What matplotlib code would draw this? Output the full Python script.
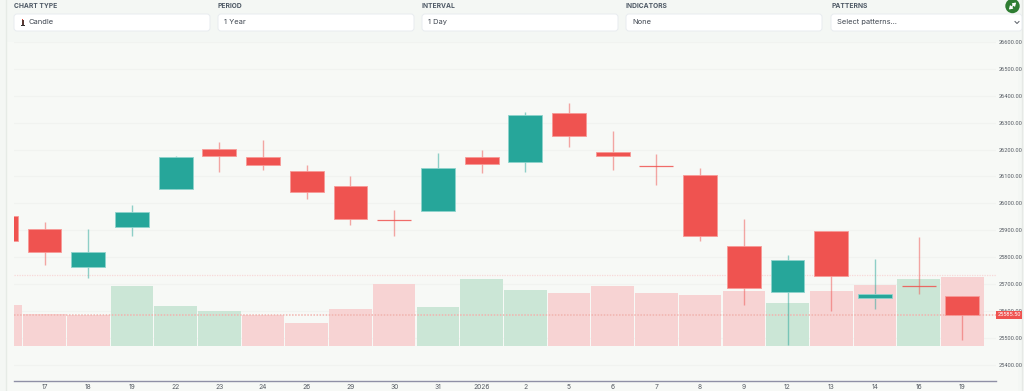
#!/usr/bin/env python3
"""
Candlestick chart with volume, inside a dashboard panel.
"""

import numpy as np
import matplotlib
matplotlib.use('Agg')
import matplotlib.pyplot as plt
from matplotlib.patches import FancyBboxPatch, Rectangle, Circle

plt.rcParams['font.family'] = ['Inter', 'DejaVu Sans']

# Data
dates = ['', '17', '18', '19', '22', '23', '24', '26', '29', '30', '31', '2026',
         '2', '5', '6', '7', '8', '9', '12', '13', '14', '16', '19']
opens = [25952, 25903, 25762, 25911, 26052, 26204, 26171, 26119, 26063, 25941, 25970, 26171,
         26153, 26335, 26190, 26141, 26104, 25840, 25669, 25896, 25647, 25695, 25654]
closes = [25859, 25818, 25818, 25967, 26171, 26175, 26141, 26041, 25941, 25940, 26130, 26145,
          26327, 26249, 26175, 26140, 25877, 25684, 25788, 25729, 25665, 25694, 25584]
highs = [25952, 25929, 25903, 25993, 26178, 26230, 26234, 26141, 26100, 25974, 26186, 26197,
         26338, 26372, 26271, 26182, 26130, 25941, 25810, 25896, 25792, 25874, 25654]
lows = [25859, 25770, 25721, 25877, 26052, 26115, 26123, 26015, 25918, 25877, 25970, 26112,
        26115, 26208, 26123, 26067, 25859, 25621, 25472, 25600, 25606, 25662, 25494]
volumes = [41, 32, 31, 60, 40, 35, 31, 23, 37, 62, 39, 67, 56, 53, 60, 53, 51, 55, 43, 55, 61, 67, 69]
volume_up = [False, False, False, True, True, True, False, False, False, False, True, True,
             True, False, False, False, False, False, True, False, False, True, False]
price_ticks = [25400, 25500, 25600, 25700, 25800, 25900, 26000, 26100, 26200, 26300, 26400,
               26500, 26600]
last_price = 25585.5
prev_level = 25732
controls = [('CHART TYPE', 'Candle', 14, 210),
            ('PERIOD', '1 Year', 218, 414),
            ('INTERVAL', '1 Day', 422, 618),
            ('INDICATORS', 'None', 626, 822),
            ('PATTERNS', 'Select patterns...', 831, 1022)]

UP = '#26a69a'
DOWN = '#ef5350'
UP_EDGE = '#8fd3cc'
DOWN_EDGE = '#f79a97'
W, H = 1024, 391

fig = plt.figure(figsize=(W / 100, H / 100), dpi=100, facecolor='#f4f7f4')

# Page layer in pixel coordinates
page = fig.add_axes([0, 0, 1, 1], zorder=0)
page.set_xlim(0, W)
page.set_ylim(H, 0)
page.axis('off')
page.add_patch(Rectangle((6, 42), 1012, 349, color='#f7f9f6', lw=0))
page.plot([5.5, 5.5], [0, 391], color='#e6ebe6', lw=1)
page.plot([1021.5, 1021.5], [0, 391], color='#e6e9e6', lw=1)

# Chart axes
left, right = 13.5, 996
top, bottom = 42, 381
ax = fig.add_axes([left / W, 1 - bottom / H, (right - left) / W, (bottom - top) / H], zorder=2)
ax.patch.set_alpha(0)
ax.set_xlim(-0.71, 21.77)
ax.set_ylim(26600 - (bottom - 42) / 0.269, 26600)

x = np.arange(len(dates)) - 1
opens = np.array(opens)
closes = np.array(closes)

for p in price_ticks:
    ax.axhline(p, color='#f1f3f0', lw=0.8, zorder=1)

# Volume on its own scale, pinned to the lower part of the chart
vol_ax = ax.twinx()
vol_ax.patch.set_alpha(0)
vol_ax.set_ylim(-(bottom - 345.5), bottom - top - (bottom - 345.5))
vol_ax.axis('off')
vol_colors = ['#cbe6d6' if v else '#f7d3d3' for v in volume_up]
vol_ax.bar(x, volumes, width=0.975, color=vol_colors, zorder=1)

# Candles on top of the volume
price_ax = ax.twinx()
price_ax.set_ylim(ax.get_ylim())
price_ax.axis('off')
price_ax.axhline(last_price, color='#f1b3ae', lw=1.1, ls=(0, (1, 1)), zorder=2)
price_ax.axhline(prev_level, color='#f8d9d7', lw=0.9, ls=(0, (1, 1)), zorder=2)
for i in range(len(dates)):
    up = closes[i] >= opens[i]
    col = UP if up else DOWN
    edge = UP_EDGE if up else DOWN_EDGE
    price_ax.vlines(x[i], lows[i], highs[i], color=col, lw=1, alpha=0.5, zorder=3)
    low_body = min(opens[i], closes[i])
    height = abs(closes[i] - opens[i])
    if height < 5:
        price_ax.hlines(low_body, x[i] - 0.39, x[i] + 0.39, color=col, lw=0.9, alpha=0.85, zorder=4)
    else:
        price_ax.bar(x[i], height, bottom=low_body, width=0.775, color=col,
                     edgecolor=edge, linewidth=0.6, zorder=4)

# Axis
ax.set_xticks(x[1:])
ax.set_xticklabels(dates[1:], fontsize=4.8, color='#555b63')
ax.tick_params(axis='x', length=0, pad=2)
ax.yaxis.tick_right()
ax.set_yticks(price_ticks)
ax.set_yticklabels([f'{p:.2f}' for p in price_ticks], fontsize=4.1, color='#555b63',
                   family=['Roboto', 'DejaVu Sans'])
ax.tick_params(axis='y', length=0, pad=2)
for s in ['top', 'left', 'right']:
    ax.spines[s].set_visible(False)
ax.spines['bottom'].set_color('#8f90a6')
ax.spines['bottom'].set_linewidth(1)

# Controls and overlay on top
ui = fig.add_axes([0, 0, 1, 1], zorder=5)
ui.set_xlim(0, W)
ui.set_ylim(H, 0)
ui.axis('off')

for label, value, x0, x1 in controls:
    ui.text(x0, 6, label, fontsize=4.8, fontweight='bold', color='#4f5a66', va='center', ha='left')
    ui.add_patch(FancyBboxPatch((x0, 14), x1 - x0, 17, boxstyle='round,pad=0,rounding_size=3',
                                fc='white', ec='#e8ecef', lw=0.7))
    tx = x0 + 14.5 if label == 'CHART TYPE' else x0 + 6
    ui.text(tx, 22.3, value, fontsize=5.4, color='#3f4650', va='center', ha='left')

# Candle icon
ui.add_patch(Rectangle((21.5, 20), 2, 5, color='#5a3a34', lw=0))
ui.add_patch(Rectangle((20.5, 25), 4, 1, color='#333333', lw=0))
ui.add_patch(Rectangle((22, 18.8), 1, 1.5, color='#d9453a', lw=0))

# Dropdown arrow
ui.plot([1015, 1017, 1019], [21.5, 23.5, 21.5], color='#555b63', lw=0.7)

# Expand button (no installed font has the double arrow glyph)
ui.add_patch(Circle((1012.5, 6), 7.2, color='#2e7d32', lw=0))
ui.annotate('', xy=(1016, 2.5), xytext=(1009, 9.5),
            arrowprops=dict(arrowstyle='<|-|>,head_length=0.18,head_width=0.12', color='white',
                            lw=0.8, shrinkA=0, shrinkB=0))

# Last price tag
y_tag = bottom - (last_price - ax.get_ylim()[0]) * 0.269
ui.add_patch(Rectangle((996, y_tag - 4), 26, 8, color=DOWN, lw=0))
ui.text(1009, y_tag, f'{last_price:.2f}', fontsize=4.1, color='white', va='center', ha='center',
        family=['Roboto', 'DejaVu Sans'])

plt.savefig('out.png', dpi=100)
